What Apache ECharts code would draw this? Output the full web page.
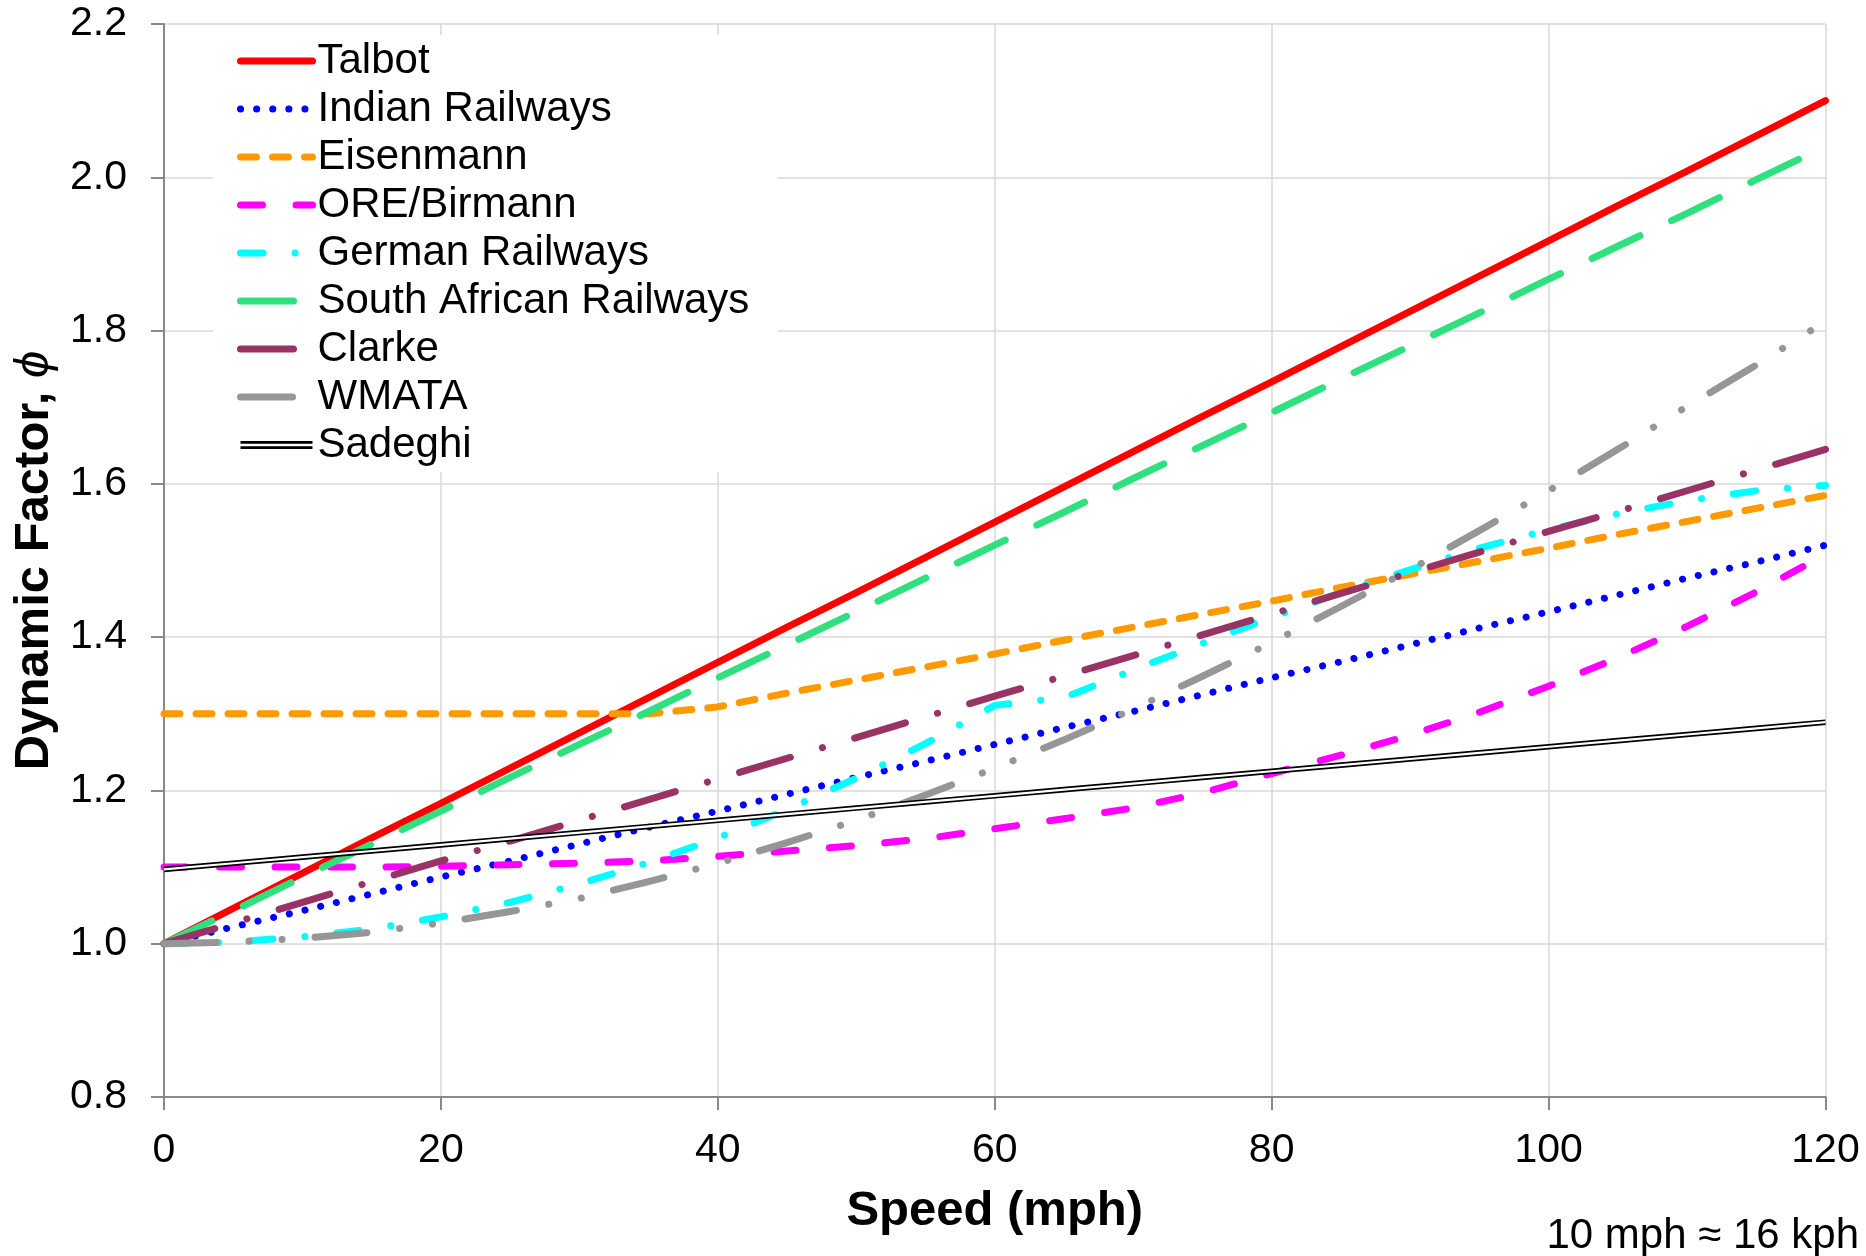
<!DOCTYPE html>
<html>
<head>
<meta charset="utf-8">
<script src="https://cdn.jsdelivr.net/npm/echarts@6/dist/echarts.min.js"></script>
<style>html,body{margin:0;padding:0;background:#fff}#c{width:1866px;height:1256px}</style>
</head>
<body>
<div id="c"></div>
<script>
// ---- data ----
const speeds = [0,5,10,15,20,25,30,35,40,45,50,55,60,65,70,75,80,85,90,95,100,105,110,115,120];
const talbot = [1.000,1.046,1.092,1.138,1.183,1.229,1.275,1.321,1.367,1.413,1.458,1.504,1.550,1.596,1.642,1.688,1.733,1.779,1.825,1.871,1.917,1.963,2.008,2.054,2.100];
const indian = [1.000,1.022,1.043,1.065,1.087,1.108,1.130,1.152,1.173,1.195,1.217,1.238,1.260,1.282,1.303,1.325,1.347,1.368,1.390,1.412,1.433,1.455,1.477,1.498,1.520];
const eisenmann = [1.300,1.300,1.300,1.300,1.300,1.300,1.300,1.300,1.309,1.327,1.344,1.361,1.378,1.396,1.413,1.430,1.447,1.465,1.482,1.499,1.516,1.534,1.551,1.568,1.585];
const oreBirmann = [1.100,1.100,1.100,1.100,1.101,1.103,1.105,1.108,1.114,1.121,1.128,1.137,1.150,1.163,1.177,1.197,1.222,1.246,1.272,1.302,1.336,1.373,1.414,1.459,1.508];
const german = [1.000,1.002,1.009,1.019,1.035,1.054,1.078,1.106,1.138,1.175,1.216,1.261,1.311,1.321,1.357,1.392,1.426,1.458,1.488,1.516,1.540,1.561,1.578,1.591,1.598];
const southAfrican = [1.000,1.043,1.087,1.130,1.173,1.217,1.260,1.303,1.347,1.390,1.433,1.477,1.520,1.563,1.607,1.650,1.693,1.737,1.780,1.823,1.867,1.910,1.953,1.997,2.040];
const clarke = [1.000,1.027,1.054,1.081,1.108,1.134,1.161,1.188,1.215,1.242,1.269,1.296,1.323,1.349,1.376,1.403,1.430,1.457,1.484,1.511,1.538,1.564,1.591,1.618,1.645];
const wmata = [1.000,1.002,1.007,1.015,1.027,1.042,1.059,1.081,1.105,1.132,1.161,1.194,1.229,1.266,1.306,1.349,1.393,1.440,1.488,1.539,1.591,1.645,1.701,1.755,1.812];
const sadeghi = [1.097,1.105,1.113,1.121,1.129,1.137,1.145,1.153,1.161,1.169,1.177,1.185,1.193,1.201,1.209,1.217,1.225,1.233,1.241,1.249,1.257,1.265,1.273,1.281,1.289];

const seriesNames = ['Talbot','Indian Railways','Eisenmann','ORE/Birmann','German Railways','South African Railways','Clarke','WMATA','Sadeghi'];
const xAxisTitle = 'Speed (mph)';
const yAxisTitle = 'Dynamic Factor, ';
const yAxisSymbol = 'ϕ';
const footNote = '10 mph \u2248 16 kph';

// ---- styling ----
const FONT = '"Liberation Sans", Arial, Helvetica, sans-serif';
const styles = [
  {color:'#FF0000', dash:'solid', w:7},
  {color:'#0000FF', dash:[0.1,16], w:7},
  {color:'#FF9900', dash:[16,16], w:7},
  {color:'#FF00FF', dash:[22,33.5], w:7},
  {color:'#00FFFF', dash:[22.5,32,0.1,32], w:7},
  {color:'#2EE07E', dash:[53,35], w:7},
  {color:'#993366', dash:[53,33.5,0.1,33.5], w:7},
  {color:'#969696', dash:[52,33,0.1,33,0.1,33], w:7}
];
const values = [talbot, indian, eisenmann, oreBirmann, german, southAfrican, clarke, wmata];
const pts = arr => speeds.map((s, i) => [s, arr[i]]);

const series = values.map((arr, i) => ({
  name: seriesNames[i],
  type: 'line',
  data: pts(arr),
  symbol: 'none',
  showSymbol: false,
  silent: true,
  animation: false,
  color: styles[i].color,
  lineStyle: {color: styles[i].color, width: styles[i].w, type: styles[i].dash, cap: 'round', join: 'round'}
}));
series.push({
  name: 'Sadeghi', type: 'line', data: pts(sadeghi), symbol: 'none', showSymbol: false, silent: true, animation: false,
  color: '#000', lineStyle: {color: '#000', width: 5.6, type: 'solid'}
});
series.push({
  name: 'Sadeghi-inner', type: 'line', data: pts(sadeghi), symbol: 'none', showSymbol: false, silent: true, animation: false,
  color: '#fff', lineStyle: {color: '#fff', width: 2.2, type: 'solid'}
});

const legendData = seriesNames.map(n => n === 'Sadeghi'
  ? {name: n, icon: 'path://M0,0H72V2.7H0ZM0,5.3H72V8H0Z', itemStyle: {color: '#000', opacity: 1, borderWidth: 0}}
  : {name: n});

const chart = echarts.init(document.getElementById('c'), null, {renderer: 'canvas'});
chart.setOption({
  animation: false,
  backgroundColor: '#fff',
  textStyle: {fontFamily: FONT},
  grid: {left: 164, right: 40.5, top: 24, bottom: 159, containLabel: false, outerBoundsMode: 'none'},
  xAxis: {
    type: 'value', min: 0, max: 120, interval: 20,
    name: xAxisTitle, nameLocation: 'middle', nameGap: 90,
    nameTextStyle: {fontSize: 49, fontWeight: 'bold', color: '#000', fontFamily: FONT},
    axisLine: {show: true, onZero: false, lineStyle: {color: '#898989', width: 2}},
    axisTick: {show: true, length: 13, lineStyle: {color: '#898989', width: 2}},
    axisLabel: {fontSize: 41, color: '#000', margin: 33, fontFamily: FONT},
    splitLine: {show: true, lineStyle: {color: '#d9d9d9', width: 1.5}}
  },
  yAxis: {
    type: 'value', min: 0.8, max: 2.2, interval: 0.2,
    name: '{b|' + yAxisTitle + '}{i|' + yAxisSymbol + '}', nameLocation: 'middle', nameGap: 105,
    nameTextStyle: {fontSize: 49, fontWeight: 'bold', color: '#000', fontFamily: FONT,
      rich: {b: {fontSize: 49, fontWeight: 'bold', color: '#000', fontFamily: FONT},
             i: {fontSize: 49, fontStyle: 'italic', fontWeight: 'normal', color: '#000', fontFamily: FONT}}},
    axisLine: {show: true, onZero: false, lineStyle: {color: '#898989', width: 2}},
    axisTick: {show: true, length: 13, lineStyle: {color: '#898989', width: 2}},
    axisLabel: {fontSize: 41, color: '#000', margin: 37, fontFamily: FONT, formatter: v => v.toFixed(1)},
    splitLine: {show: true, lineStyle: {color: '#d9d9d9', width: 1.5}}
  },
  legend: {
    show: true, orient: 'vertical', left: 213, top: 35,
    padding: [5, 28, 6, 24], backgroundColor: '#fff',
    itemWidth: 72, itemHeight: 8, itemGap: 6, selectedMode: false,
    textStyle: {fontSize: 42, lineHeight: 40, color: '#000', fontFamily: FONT},
    itemStyle: {opacity: 0, borderWidth: 0},
    lineStyle: {width: 7, type: 'inherit', cap: 'round'},
    data: legendData
  },
  graphic: [{
    type: 'text', x: 1859, y: 1236,
    style: {text: footNote, fill: '#000', font: '42px ' + FONT, align: 'right', verticalAlign: 'middle'}
  }],
  series: series
});
</script>
</body>
</html>
